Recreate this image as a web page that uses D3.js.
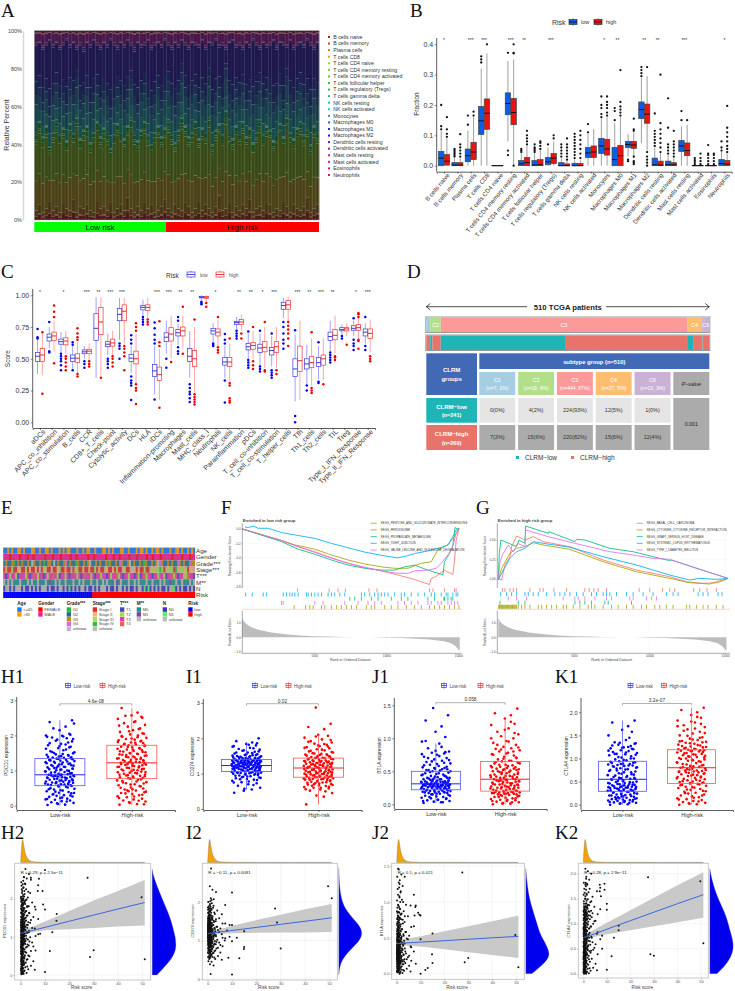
<!DOCTYPE html>
<html><head><meta charset="utf-8">
<script src="https://cdn.jsdelivr.net/npm/d3@7/dist/d3.min.js"></script>
<style>html,body{margin:0;padding:0;background:#fff}svg{display:block;font-family:"Liberation Sans",Arial,sans-serif}</style>
</head><body><svg id="fig" width="735" height="991"></svg>
<script>
// ---------- Panel A / B labels ----------
const cellTypes=["B cells naive","B cells memory","Plasma cells","T cells CD8","T cells CD4 naive","T cells CD4 memory resting","T cells CD4 memory activated","T cells follicular helper","T cells regulatory (Tregs)","T cells gamma delta","NK cells resting","NK cells activated","Monocytes","Macrophages M0","Macrophages M1","Macrophages M2","Dendritic cells resting","Dendritic cells activated","Mast cells resting","Mast cells activated","Eosinophils","Neutrophils"];
const cellWeights=[.03,.006,.05,.16,.001,.2,.015,.012,.022,.006,.006,.05,.07,.04,.07,.18,.012,.01,.065,.002,.004,.015];
const redTop=[5,8,4,6,10,5,7,4,9,6,5,11,4,7,6,8,5,4,10,6,7,5,9,4,6,8,5,12,6,4,7,5,9,6,8,4,5,7,11,6,4,8,6,5,9,7,4,6,10,5,8,6,4,7,13,5,6,9,4,7,5,8,6,11,4,6,7,5,9,8,4,6,5,10,7,4,8,6,5,7,12,4,6,8];
const lowerTop=[46,52,44,50,39,47,53,45,49,42,51,46,55,43,48,50,41,47,52,44,49,46,38,45,51,47,43,50,54,46,42,48,52,45,40,47,50,44,49,53,46,41,48,55,50,44,47,52,43,49,46,54,40,48,51,45,58,47,43,50,46,52,44,49,41,47,53,45,50,48,42,46,51,44,55,47,43,49,52,45,48,40,50,46];
const tealTop=[66,70,62,68,60,65,72,64,67,61,69,66,75,63,66,70,62,67,71,64,68,65,59,64,70,66,63,69,74,65,61,67,72,64,60,66,70,63,68,73,65,60,67,78,70,64,66,71,62,68,65,76,60,67,70,64,80,66,63,69,65,72,63,68,61,66,73,64,69,67,62,65,71,63,76,66,62,68,72,64,67,60,69,65];
const navyTop=[92,93,90,92,94,91,93,90,92,95,91,93,90,92,89,93,91,94,92,90,93,91,95,92,90,93,91,94,92,89,93,91,92,94,90,92,93,91,95,92,90,93,91,94,92,90,93,92,91,94,90,93,92,95,91,92,90,93,94,91,92,90,93,91,95,92,90,93,91,92,94,90,93,92,91,94,90,92,93,91,95,92,90,93];
const riskSplit=["Low risk","High risk"];
const pctTicks=[0,20,40,60,80,100];

// ---------- Panel B: [low whisker,q1,median,q3,high whisker] ----------
const bLow=[[0,0,.025,.047,.115],[0,0,.002,.01,.025],[0,.013,.033,.055,.115],[0,.103,.148,.195,.32],[0,0,0,.001,.001],[.08,.168,.205,.24,.345],[0,0,.006,.017,.04],[0,0,.002,.017,.04],[0,.003,.013,.027,.06],[0,0,0,.01,.025],[0,0,0,.008,.02],[0,.027,.042,.06,.105],[0,.04,.065,.09,.155],[0,0,.02,.06,.14],[.03,.06,.07,.08,.105],[.075,.155,.185,.21,.29],[0,0,.003,.025,.06],[0,0,.003,.015,.035],[0,.047,.065,.083,.13],[0,0,0,.001,.002],[0,0,0,.001,.003],[0,0,.007,.02,.045]];
const bHigh=[[0,.002,.015,.037,.09],[0,0,.002,.01,.025],[0,.02,.045,.077,.16],[0,.12,.173,.22,.37],[0,0,0,.001,.001],[0,.135,.175,.222,.35],[0,0,.01,.027,.065],[0,0,.003,.02,.05],[0,.007,.025,.04,.08],[0,0,0,.006,.015],[0,0,0,.007,.018],[0,.027,.045,.065,.12],[0,.035,.055,.087,.16],[0,0,.033,.067,.16],[.025,.057,.068,.08,.11],[.05,.14,.17,.203,.295],[0,0,.002,.015,.04],[0,0,.003,.01,.025],[0,.033,.05,.075,.135],[0,0,0,.001,.002],[0,0,0,.001,.003],[0,0,.005,.017,.04]];
const bLowOut=[[.12,.13,.2],[.03,.035,.04,.045,.05,.055],[.135,.165],[.34,.35,.36],[],[.035,.05,.372],[.045,.05,.055],[.045,.05,.055,.06,.07],[.07],[.03,.04,.05,.06,.07],[.025,.035,.045,.055,.065,.075,.085,.095,.105],[.11,.137],[.16,.17,.19,.2,.228],[.15,.18,.19],[.015,.02],[.295,.305,.315,.325],[.065,.075,.085,.095,.105,.115,.172],[.04,.05,.06,.07,.125,.222],[.15,.18],[.005,.012,.018,.025],[.005,.015,.025,.035,.04,.068],[.05,.06,.08]];
const bHighOut=[[.095,.105,.12,.16],[.03,.04,.05,.06,.07,.104],[.165,.178],[.4],[],[0,.37,.372,.4],[.07,.08,.09,.1,.115],[.055,.065,.075,.08],[.09,.1],[.02,.03,.04,.05,.06,.07,.09],[.025,.04,.055,.07,.085,.1,.115],[],[.165,.175,.19,.2,.21,.228],[.165,.175,.185,.195,.21,.315],[.005,.01,.015,.03,.115,.12,.155],[0,.01,.02,.03,.045,.325],[.045,.06,.075,.09,.105,.12,.14,.3],[.03,.04,.05,.06,.07,.08,.115],[.15],[.005,.015,.025,.04],[.005,.015,.025,.035,.04],[.045,.055,.065,.08,.095,.11,.125,.197]];
const bStars=["*","","***","***","","***","**","","***","","","","*","**","","**","**","","***","","",  "*"];
const bTicks=[0,.1,.2,.3,.4];

// ---------- Panel C ----------
const cCats=["aDCs","APC_co_inhibition","APC_co_stimulation","B_cells","CCR","CD8+_T_cells","Check-point","Cytolytic_activity","DCs","HLA","iDCs","Inflammation-promoting","Macrophages","Mast_cells","MHC_class_I","Neutrophils","NK_cells","Parainflammation","pDCs","T_cell_co-inhibition","T_cell_co-stimulation","T_helper_cells","Tfh","Th1_cells","Th2_cells","TIL","Treg","Type_I_IFN_Response","Type_II_IFN_Response"];
const cLow=[[.38,.48,.52,.55,.65],[.58,.64,.67,.695,.75],[.55,.615,.635,.655,.71],[.42,.48,.505,.53,.6],[.5,.54,.555,.57,.6],[.35,.645,.74,.855,.985],[.53,.595,.615,.635,.7],[.65,.8,.85,.895,.98],[.39,.48,.505,.535,.6],[.84,.885,.905,.92,.965],[.22,.36,.405,.455,.6],[.54,.635,.67,.705,.8],[.61,.68,.705,.73,.78],[.35,.48,.52,.58,.72],[.96,.98,.985,.99,1],[.63,.695,.72,.74,.78],[.35,.45,.475,.51,.6],[.73,.77,.785,.795,.83],[.5,.57,.595,.62,.7],[.45,.55,.585,.615,.7],[.44,.53,.565,.59,.68],[.82,.89,.92,.945,.98],[.165,.36,.42,.5,.69],[.3,.42,.46,.5,.61],[.34,.44,.47,.51,.6],[.56,.645,.675,.71,.8],[.69,.72,.73,.745,.77],[.68,.725,.74,.76,.8],[.62,.68,.71,.735,.78]];
const cHigh=[[.37,.48,.53,.58,.7],[.56,.645,.68,.71,.8],[.54,.61,.64,.665,.72],[.39,.47,.505,.54,.63],[.49,.54,.56,.575,.62],[.37,.69,.79,.905,.985],[.53,.6,.625,.655,.72],[.62,.8,.875,.925,.98],[.31,.46,.5,.56,.7],[.82,.88,.905,.925,.98],[.175,.33,.375,.435,.58],[.5,.64,.695,.745,.84],[.58,.68,.72,.75,.84],[.24,.44,.5,.565,.75],[.95,.975,.985,.99,1],[.6,.68,.71,.735,.81],[.33,.44,.475,.51,.62],[.72,.77,.79,.81,.85],[.5,.575,.605,.63,.72],[.43,.555,.59,.635,.75],[.43,.55,.595,.635,.75],[.8,.89,.925,.96,.99],[.175,.4,.485,.6,.8],[.29,.43,.47,.52,.66],[.33,.45,.5,.53,.66],[.54,.65,.685,.73,.84],[.68,.72,.735,.745,.78],[.66,.725,.745,.77,.82],[.55,.66,.7,.735,.81]];
const cLowOut=[[.66,.67,.735],[.55,.56,.79],[.41,.45,.48,.5,.52,.54],[.41,.61,.63],[.43,.46,.48],[],[.43,.46,.48,.5],[.5,.58,.6,.62],[.175,.29,.31,.33,.36,.62,.65,.685],[.77,.79,.81,.83],[.18,.62,.65,.69,.74,.785],[.43,.5],[.54,.56,.59,.8,.83],[.16,.19,.22,.24,.27,.3],[.93,.94,.95],[.6,.61,.62],[.155,.33,.62,.65,.695],[.66,.68,.7,.72],[.43,.45,.47,.49,.715],[.4,.42,.44,.72],[.35,.37,.39,.41,.7],[.58,.62,.65,.7,.75,.79],[0,.05,.725],[.25,.29],[.31,.32,.63],[.47,.49,.51,.53,.55],[.66,.68],[.57,.6,.62,.65,.82],[.57,.6,.83]];
const cHighOut=[[.225,.71],[.465,.83,.87,.92],[.41,.44,.47,.5,.52],[.36,.38,.65,.67,.7,.74],[.44,.46,.48],[.35],[.44,.47,.5,.52],[.41,.52,.55,.58,.6],[.145,.25,.27,.3,.72,.75,.78],[.77,.79,.81],[.115,.6,.63,.795],[.475],[.54,.91],[.14,.16,.18,.2,.22,.81],[.91,.94],[.55,.57,.59,.83],[.155,.17,.19,.29,.31,.66],[.66,.7],[.42,.45,.48,.75],[.4,.41,.79],[.38,.41],[.6,.66,.7,.73,.76,.79],[],[.23,.25,.27,.71],[.3],[.49,.51,.52],[.61],[.58,.64,.65,.83,.85,.86],[.48,.5,.52]];
const cStars=["*","","*","","***","**","***","***","","","***","***","**","**","","*","","**","**","*","***","","***","**","***","**","","*","***"];
const cTicks=[0,.25,.5,.75,1];

// ---------- Panel D ----------
const dGroups=["C1","C2","C3","C4","C6"];
const dCounts=[7,19,444,27,13];
const dPercent=["1%","4%","87%","5%","3%"];
const dLowCounts=[0,4,224,12,1];
const dHighCounts=[7,15,220,15,12];
const dLowPct=["0%","2%","93%","5%","0%"];
const dHighPct=["3%","6%","82%","6%","4%"];
const dSubsetOrder=[["high","low"],["low","high"],["low","high"],["low","high"],["low","high"]];

// ---------- Panel E (one letter per patient block) ----------
const eTracks=["Age","Gender","Grade***","Stage***","T***","M**","N","Risk"];
const eCells=[
"aababaabbabaaabbaabaabbabaaabababbaaabaababbaabaaabbababaaabbaabaaababbabaababbabaaabaabbabaababa",
"ppprpppprppprpprppppprppprppprpppprpprppppprpprppppprppprpprpppprppprpppprpprppprppppprpppprppprpp",
"bcbbcabcbcbbcbecbbcbabccbebcbbcdbcbbacbbcbcebbcbcbbcacbbcbdcbbcebcbbcbacbbcbcedcbbcbcbbdcbcbbdcc",
"abaacaabbaacabaabaeacbaabaabcaabaaeabcaabaabaacabaaebaabacaabcaabebabaacaabcbccdcabcccadbccbcabbe",
"cacbccbacccbcacdcbccacbccdcbaccbcacccbcacdccbcaccbccacbccdbcaccbccacbacdbccaccbccbaccdbcaccbbdcca",
"cacacaaacaaacacaacaaacabaacacaacaaacaacacaaacaacaacacaaacbacaaacaacacaaacaacaaacacaabaacaacaaacac",
"accacacccacaacacacacccacaacaccacabacacaccacaacacacccacaacaccacacaacaccababacacacaacacbbacacaacaca",
"lllllllllllllllllllllllllllllllllllllllllllllhhhhhhhhhhhhhhhhhhhhhhhhhhhhhhhhhhhhhhhhhhhhhhhhhhhh"];
const eLegendTitles=["Age","Gender","Grade***","Stage***","T***","M**","N","Risk"];
const eLegendLabels=[["<=65",">65"],["FEMALE","MALE"],["G1","G2","G3","G4","unknow"],["Stage I","Stage II","Stage III","Stage IV","unknow"],["T1","T2","T3","T4"],["M0","M1","unknow"],["N0","N1","unknow"],["low","high"]];
const ePalette=[["#0a7cff","#ff9a00"],["#ff0000","#ff1493"],["#22bb33","#1f6f8f","#c8880f","#dd66dd","#bbbbbb"],["#dd2a2a","#ffb070","#a8dd55","#33bb44","#bbbbbb"],["#4444cc","#a8d855","#ee33bb","#dd6655"],["#1a9090","#7744aa","#bbbbbb"],["#3333cc","#55ee66","#bbbbbb"],["#0000ff","#ff0000"]];
const eCodes=["ab","rp","abcde","abcde","abcd","abc","abc","lh"];

// ---------- Panels F, G ----------
const gseaColors=["#F8766D","#A3A500","#00BF7D","#00B0F6","#E76BF3"];
const fNames=["KEGG_PENTOSE_AND_GLUCURONATE_INTERCONVERSIONS","KEGG_PEROXISOME","KEGG_PROPANOATE_METABOLISM","KEGG_TIGHT_JUNCTION","KEGG_VALINE_LEUCINE_AND_ISOLEUCINE_DEGRADATION"];
const fRed=[[0,0],[2725,-.16],[3880,-.245],[5035,-.315],[6190,-.4],[7345,-.475],[8500,-.535],[9650,-.58],[11040,-.65],[11960,-.7],[13000,-.77],[13120,-.685],[13350,-.67],[14040,-.57],[14160,-.585],[14620,-.63],[14740,-.43],[14850,-.16],[15050,.01]];
const fOlive=[[0,0],[2725,-.16],[3650,-.22],[5035,-.28],[6190,-.36],[7345,-.43],[8500,-.485],[9650,-.525],[10580,-.545],[11500,-.545],[12430,-.475],[13120,-.455],[13580,-.29],[14280,-.22],[14740,-.105],[15050,.01]];
const fGreen=[[0,0],[2725,-.175],[3880,-.28],[5035,-.35],[6190,-.43],[7345,-.5],[8500,-.545],[9650,-.57],[10580,-.57],[11270,-.525],[11960,-.5],[12890,-.57],[13930,-.635],[14040,-.455],[14390,-.34],[14620,-.23],[14780,.02],[15050,-.015]];
const fBlue=[[185,.03],[416,.02],[762,.04],[1109,.01],[1801,.01],[2725,-.05],[3880,-.09],[5035,-.13],[6190,-.2],[7345,-.26],[8500,-.32],[9650,-.365],[10800,-.4],[11390,-.375],[11960,-.34],[12890,-.305],[13810,-.255],[14280,-.22],[14620,-.105],[14850,-.015],[15050,.01]];
const fPink=[[0,0],[2725,-.16],[3880,-.245],[5035,-.325],[6190,-.405],[7345,-.475],[8500,-.53],[9650,-.58],[10800,-.615],[11500,-.615],[11960,-.58],[12890,-.57],[13470,-.545],[13810,-.475],[14280,-.36],[14620,-.245],[14850,-.06],[15050,.01]];
const fRugRed=[3835,6030,6650,7160,8800,9355,13000,13240,14040,14740,14850];
const fRugBlue=[230,690,1455,1685,2840,3070,3300,3465,3650,3880,4460,4575,4805,5035,5265,5500,5960,6190,6420,6770,7115,8270,8500,8850,9195,9425,9655,9890,10120,10580,11040,11270,11735,12200,12660,13120,13350,13815,14160,14280,14620,14850,14965];
const fRugGreen=[7460,7810,8270,8960,9425,10350,11040,11500,12890,13350,14040,14280,14620,14000,14500];
const fRugPink=[2725,2840,5035,5610,7115,8040,8730,9195,9655,10810,11270,11735,12200,12890,13120,13580,13815,14280,14510,14740,14965];
const fRugOlive=[3605,4390,4690,4920,5500,5730,6190,6540,6880,7230,7580,7925,8615,8960,9195,9890,10350,10810,11390,11965,12430,13000,13350,13700,14040,14390,14740,15040];
const gNames=["KEGG_BASAL_CELL_CARCINOMA","KEGG_CYTOKINE_CYTOKINE_RECEPTOR_INTERACTION","KEGG_GRAFT_VERSUS_HOST_DISEASE","KEGG_SYSTEMIC_LUPUS_ERYTHEMATOSUS","KEGG_TYPE_I_DIABETES_MELLITUS"];
const gRed=[[0,0],[220,-.017],[440,.177],[771,.284],[881,.414],[1212,.552],[1762,.5],[2313,.543],[2974,.478],[4736,.414],[6940,.241],[9142,.112],[11345,.026],[12447,-.039],[13549,-.06],[14430,-.052],[14870,-.026],[15200,.004]];
const gOlive=[[0,-.017],[220,.134],[771,.328],[1212,.392],[1762,.414],[2313,.465],[2974,.435],[4736,.379],[6940,.22],[9142,.09],[11345,.004],[12667,-.052],[13989,-.069],[14650,-.026],[15200,.004]];
const gGreen=[[0,0],[66,.328],[176,.5],[1212,.414],[1366,.5],[1762,.457],[1806,.681],[3305,.586],[3349,.608],[5067,.478],[5177,.509],[5728,.5],[7380,.392],[8922,.349],[10244,.284],[11345,.233],[11455,.241],[15200,.004]];
const gBlue=[[0,-.017],[330,.112],[771,.263],[1212,.349],[1762,.392],[2313,.478],[2974,.457],[4736,.406],[6940,.284],[9142,.177],[11345,.047],[12667,-.017],[13328,.004],[14430,-.009],[15200,.004]];
const gPink=[[0,0],[110,.22],[330,.328],[660,.435],[991,.349],[1278,.457],[1762,.414],[1806,.629],[3305,.543],[5067,.457],[7380,.349],[8922,.306],[10244,.263],[11345,.25],[13108,.134],[15200,.004]];
const gRugRed=[264,440,771,991,1212,2093,2754,2974,3679,4516,5728,6014,6323,6609,7160,9319,10024,10861,11345,11676,12932,13328,13813,14430];
const gRugBlue=[154,551,881,1212,1762,1983,2313,2644,3194,3745,4075,4406,4736,5177,5618,6169,6499,6940,7160,7380,7821,8482,8922,9583,10244,11125,11566,11896,13218,13549,13879,14540,14804];
const gRugPink=[660,1212,1872,4296,5067,5287,5728,6389,7160,7490,8702,8922,9803,10134,10464];
const gRugGreen=[110,1322,1762,5067,5397,5728,6169,7050,7270,8812];
const gRugOlive=[30,80,110,170,220,280,330,390,440,500,551,610,660,720,771,830,881,940,991,1050,1101,1160,1212,1322,1542,1762,2093,2644,2864,3194,3525,3855,4296,4516,4957,5397,5948,6169,6389,6940,7490,7931,8482,8922,9473,9803,10354,10685,11125,11566,12447,12667,13108,13549,13879,14430,14870];
const rankedMetric=[[0,1.35],[100,1.1],[300,.9],[600,.7],[1000,.55],[2000,.32],[3000,.2],[4000,.12],[5000,.07],[6000,.04],[7000,.02],[8000,0],[9000,-.01],[10000,-.03],[11000,-.06],[12000,-.1],[13000,-.16],[14000,-.28],[14500,-.42],[14800,-.6],[15000,-.85],[15100,-.95]];
const rankTicks=[5000,10000,15000];

// ---------- Panels H1-K1 ----------
const riskGroups=["Low-risk","High-risk"];
const jitterOffsets=[-.82,.35,-.14,.91,-.57,.12,.68,-.33,-.95,.49,.03,-.71,.84,-.22,.27,-.48,.76,-.06,.58,-.88,.19,-.39,.97,-.63,.41,-.11,.72,-.79,.08,.55,-.27,.88,-.52,.23,-.93,.63,-.02,.38,-.68,.81,-.18,.46,-.85,.15,.7,-.43,.94,-.3,.05,-.74,.52,-.09,.79,-.59,.31,-.98,.61,-.24,.1,.86,-.37];
const pdcd1Low=[.02,.03,.05,.08,.1,.13,.15,.17,.18,.2,.22,.25,.26,.28,.3,.32,.35,.37,.39,.41,.43,.46,.48,.5,.54,.57,.58,.6,.61,.62,.64,.65,.66,.68,.69,.7,.71,.73,.74,.75,.77,.78,.8,.81,.82,.83,.84,.85,.87,.88,.9,.91,.93,.94,.96,.98,.99,1.01,1.03,1.05,1.07,1.09,1.1,1.12,1.14,1.16,1.18,1.2,1.22,1.24,1.26,1.28,1.3,1.32,1.34,1.36,1.37,1.38,1.4,1.42,1.45,1.47,1.5,1.52,1.55,1.6,1.64,1.68,1.72,1.76,1.8,1.85,1.9,1.94,1.97,2,2.05,2.15,2.25,2.38,2.43,
.07,.12,.19,.23,.29,.33,.36,.4,.44,.47,.52,.55,.56,.59,.6,.63,.67,.67,.72,.72,.76,.79,.8,.83,.86,.86,.89,.92,.95,.97,1,1.02,1.04,1.06,1.08,1.11,1.13,1.15,1.17,1.19,1.21,1.23,1.25,1.27,1.29,1.31,1.33,1.35,1.39,1.41,1.44,1.46,1.49,1.53,1.58,1.62,1.66,1.7,1.74,1.78,1.83,1.88,1.92,1.96,1.99,2.02,2.2,2.34];
const pdcd1High=[.03,.05,.08,.12,.15,.18,.2,.24,.27,.3,.33,.36,.38,.41,.43,.46,.49,.52,.55,.58,.61,.64,.67,.7,.74,.77,.79,.81,.83,.85,.87,.89,.91,.93,.95,.97,.99,1.01,1.03,1.05,1.07,1.09,1.11,1.13,1.15,1.16,1.17,1.18,1.2,1.22,1.24,1.26,1.28,1.3,1.32,1.34,1.36,1.38,1.4,1.42,1.44,1.46,1.48,1.5,1.52,1.54,1.56,1.58,1.6,1.62,1.64,1.66,1.68,1.7,1.72,1.74,1.76,1.78,1.8,1.83,1.86,1.88,1.9,1.93,1.96,2,2.03,2.06,2.1,2.15,2.2,2.25,2.3,2.35,2.4,2.47,2.53,2.57,2.65,2.78,
.04,.1,.14,.22,.26,.31,.35,.4,.44,.47,.51,.56,.6,.63,.66,.69,.72,.75,.78,.8,.84,.86,.88,.92,.94,.96,1,1.02,1.04,1.08,1.1,1.12,1.14,1.19,1.21,1.23,1.25,1.27,1.29,1.31,1.33,1.35,1.37,1.39,1.43,1.45,1.47,1.49,1.53,1.55,1.59,1.63,1.67,1.71,1.75,1.79,1.81,1.85,1.91,1.95,1.98,2.05,2.12,2.18,2.28,2.38,2.5,2.56];
const cd274Low=[.46,.55,.57,.6,.66,.7,.73,.76,.8,.83,.85,.87,.89,.91,.93,.95,.96,.98,.99,1,1.01,1.02,1.03,1.04,1.05,1.06,1.07,1.08,1.09,1.1,1.11,1.12,1.13,1.13,1.14,1.15,1.15,1.16,1.17,1.17,1.18,1.19,1.19,1.2,1.2,1.21,1.21,1.22,1.22,1.23,1.24,1.25,1.25,1.26,1.27,1.27,1.28,1.29,1.29,1.3,1.31,1.31,1.32,1.33,1.33,1.34,1.35,1.35,1.36,1.37,1.37,1.38,1.39,1.39,1.4,1.41,1.42,1.43,1.44,1.45,1.46,1.47,1.48,1.49,1.5,1.52,1.53,1.55,1.57,1.6,1.62,1.65,1.68,1.7,1.73,1.76,1.8,1.84,1.88,1.92,2,
.52,.68,.75,.78,.82,.84,.88,.9,.92,.94,.97,.98,1,1.02,1.03,1.05,1.06,1.08,1.09,1.1,1.12,1.13,1.14,1.16,1.17,1.18,1.19,1.2,1.21,1.22,1.23,1.24,1.24,1.25,1.26,1.27,1.28,1.29,1.3,1.31,1.32,1.33,1.34,1.35,1.36,1.37,1.38,1.39,1.41,1.42,1.43,1.44,1.46,1.47,1.49,1.51,1.53,1.55,1.58,1.6,1.63,1.66,1.72,1.78,1.82,1.86];
const cd274High=[.13,.35,.38,.45,.52,.55,.58,.6,.62,.65,.67,.69,.71,.73,.75,.77,.79,.8,.82,.83,.84,.85,.87,.88,.89,.9,.91,.92,.94,.95,.96,.97,.98,.99,1,1.01,1.02,1.03,1.04,1.05,1.06,1.07,1.08,1.09,1.1,1.11,1.12,1.13,1.15,1.16,1.17,1.18,1.19,1.2,1.21,1.22,1.23,1.24,1.25,1.26,1.27,1.28,1.29,1.3,1.31,1.32,1.33,1.34,1.35,1.36,1.37,1.39,1.4,1.42,1.44,1.45,1.47,1.48,1.5,1.52,1.54,1.56,1.58,1.6,1.63,1.66,1.69,1.72,1.75,1.78,1.82,1.85,1.88,1.92,1.97,2.02,2.07,2.1,2.26,2.32,2.41,2.87,
.5,.56,.6,.63,.66,.68,.7,.72,.74,.76,.78,.81,.83,.85,.86,.88,.9,.92,.93,.95,.97,.99,1.01,1.03,1.05,1.07,1.09,1.11,1.13,1.14,1.16,1.18,1.2,1.22,1.24,1.26,1.28,1.3,1.32,1.34,1.36,1.38,1.41,1.43,1.44,1.46,1.49,1.51,1.53,1.55,1.57,1.61,1.65,1.68,1.73,1.77,1.8,1.84,1.9,1.95,2.05];
const btlaLow=[.02,.03,.04,.05,.06,.07,.08,.09,.1,.11,.12,.13,.14,.15,.16,.17,.17,.18,.18,.19,.19,.2,.2,.21,.21,.22,.23,.23,.24,.24,.25,.25,.26,.26,.26,.27,.27,.27,.28,.28,.28,.29,.29,.29,.3,.3,.3,.31,.31,.31,.32,.32,.33,.33,.34,.34,.35,.35,.36,.36,.37,.38,.38,.39,.4,.4,.41,.42,.43,.44,.45,.46,.47,.48,.5,.51,.52,.53,.54,.55,.56,.58,.6,.62,.64,.66,.68,.7,.72,.75,.77,.78,.8,.85,.92,.95,1.02,1.1,1.18,1.27,1.35,1.46,
.03,.05,.07,.09,.11,.13,.15,.16,.18,.19,.2,.21,.22,.23,.24,.25,.26,.27,.28,.28,.29,.29,.3,.3,.31,.31,.32,.32,.33,.34,.34,.35,.36,.37,.38,.39,.4,.42,.43,.45,.47,.49,.5,.52,.53,.55,.57,.59,.61,.63,.65,.67,.7,.73,.76,.79,.81,.87,.96];
const btlaHigh=[0,.01,.02,.03,.04,.05,.06,.07,.08,.09,.1,.11,.12,.13,.14,.15,.15,.16,.16,.17,.17,.18,.18,.19,.19,.2,.21,.22,.22,.23,.24,.25,.25,.26,.27,.28,.28,.29,.3,.3,.31,.32,.33,.33,.34,.35,.35,.36,.37,.38,.39,.4,.41,.42,.43,.44,.45,.46,.47,.48,.49,.5,.51,.52,.53,.54,.55,.56,.57,.58,.59,.6,.62,.63,.65,.66,.68,.7,.72,.74,.76,.78,.8,.82,.84,.85,.87,.9,.93,.96,1,1.03,1.06,1.1,1.15,1.2,1.22,1.3,1.35,1.38,1.45,
.01,.03,.05,.07,.09,.11,.13,.14,.16,.17,.18,.19,.2,.21,.23,.24,.25,.26,.27,.29,.3,.31,.32,.34,.35,.36,.37,.38,.4,.41,.42,.43,.45,.46,.48,.49,.5,.52,.53,.54,.56,.58,.6,.62,.64,.66,.69,.71,.75,.77,.8,.83,.86,.9,.95,1,1.08,1.13,1.25];
const ctla4Low=[0,.01,.03,.04,.05,.06,.07,.08,.09,.1,.11,.12,.13,.14,.15,.16,.17,.18,.19,.2,.21,.22,.24,.26,.28,.29,.3,.31,.32,.33,.34,.35,.36,.37,.38,.39,.4,.41,.42,.43,.44,.45,.46,.47,.48,.49,.5,.52,.53,.55,.56,.57,.58,.6,.62,.64,.66,.68,.7,.72,.74,.75,.77,.79,.8,.82,.84,.85,.86,.87,.88,.89,.9,.92,.94,.96,.98,1,1.02,1.05,1.07,1.09,1.1,1.12,1.14,1.16,1.18,1.2,1.22,1.24,1.27,1.3,1.33,1.35,1.4,1.5,1.58,1.62,1.7,1.78,1.82,
.02,.04,.06,.08,.1,.12,.14,.16,.18,.2,.22,.23,.25,.27,.28,.3,.31,.32,.33,.34,.35,.36,.37,.38,.39,.4,.42,.43,.45,.47,.49,.51,.54,.56,.58,.6,.63,.65,.67,.7,.73,.76,.78,.81,.83,.85,.88,.91,.93,.97,1,1.03,1.08,1.1,1.13,1.17,1.21,1.23,1.25,1.28,1.32,1.34,1.45];
const ctla4High=[0,.01,.02,.04,.06,.08,.1,.12,.14,.16,.18,.2,.22,.24,.26,.28,.3,.32,.34,.36,.37,.39,.41,.43,.45,.46,.47,.49,.5,.52,.53,.55,.56,.58,.6,.61,.63,.64,.66,.67,.69,.7,.71,.72,.73,.74,.75,.77,.78,.8,.82,.84,.86,.88,.9,.92,.93,.95,.96,.98,1,1.01,1.03,1.04,1.06,1.07,1.09,1.1,1.12,1.13,1.15,1.16,1.17,1.18,1.19,1.2,1.22,1.24,1.26,1.28,1.3,1.32,1.34,1.36,1.38,1.4,1.43,1.46,1.5,1.54,1.58,1.63,1.68,1.72,1.78,1.82,1.88,1.94,2,2.05,2.1,
.03,.07,.11,.15,.2,.25,.29,.33,.38,.42,.44,.47,.48,.51,.54,.57,.59,.62,.65,.68,.7,.72,.74,.76,.79,.81,.83,.85,.87,.91,.94,.97,.99,1.02,1.05,1.08,1.11,1.14,1.16,1.18,1.2,1.21,1.23,1.25,1.27,1.29,1.33,1.35,1.37,1.41,1.45,1.49,1.55,1.6,1.65,1.7,1.75,1.8,1.9];
const pdcd1Box=[[0,.57,.88,1.34,2.43],[.02,.77,1.22,1.72,2.78]];
const cd274Box=[[.55,1.06,1.23,1.4,1.9],[.12,.9,1.16,1.44,2.1]];
const btlaBox=[[.02,.22,.31,.5,.92],[0,.2,.38,.65,1.3]];
const ctla4Box=[[0,.29,.55,.94,1.82],[0,.46,.8,1.19,2.1]];

// ---------- Panels H2-K2 ----------
const riskLow=[.3,.7,.15,.55,.42,.85,.22,.6,.1,.75,.35,.5,.9,.18,.65,.28,.8,.45,.12,.58,.38,.72,.25,.88,.48,.08,.62,.32,.78,.2,.52,.4,.68,.16,.83,.44,.27,.74,.56,.14,.66,.36,.86,.24,.47,.7,.33];
const riskHigh=[1.2,2.4,.95,1.6,3.1,1.05,1.9,4.2,1.35,.9,2.1,5.2,1.15,2.8,1.45,1,3.6,1.75,.85,2.3,1.25,6.1,1.55,1.1,2.6,3.3,.92,1.85,1.3,4.7,1.65,2,1.08,2.95,1.4,.98,3.9,1.5,2.2,1.18,7.2,1.7,1.02,2.5,1.28,3.4,1.95,.88,1.38,5.8,2.7,1.12,1.6];
const riskDensity=[[0,0],[.3,.6],[.7,1],[1,.9],[1.5,.55],[2,.3],[3,.12],[4,.06],[5,.03],[7,.015],[10,.008],[15,.005],[30,.003],[51,.002]];
const riskTicks=[0,10,20,30,40,50];
const h2Extra=[[10,2.75],[27.5,2.55],[49.7,2.04],[14.8,1.6],[14.7,1.42],[13,1.12],[12,.63],[30,.65],[28.5,.47],[51,.41],[10,.08],[9.2,1.85],[10,1.72],[8,1.08],[7.5,2.52],[4.2,2.55],[7,2.2],[9,2.2]];
const i2Extra=[[49.5,2.41],[51,2.1],[27.7,1.83],[28.5,1.47],[30,.79],[15,1.24],[15,.83],[14.9,.78],[13,.54],[12,1.07],[10,2.25],[10,.12],[10,.98],[8,1.26],[8.5,.55],[9,1.1],[9,1.4],[10,1.4],[7,1]];
const j2Extra=[[27.5,1.41],[49.7,.54],[51,.09],[30,.22],[28.5,.16],[15,.56],[15,.15],[14.8,.27],[13,.08],[12,.05],[10,.81],[10,.48],[10,0],[9,.85],[9.5,.82],[7.5,.81],[7.8,.93],[8,.95],[8,.14]];
const k2Extra=[[27.5,1.93],[49.7,1.85],[51,.61],[30,.36],[28.5,.39],[15,.96],[15,.87],[13,.72],[12,.35],[10,1.28],[10,1.4],[10,.08],[9,1.8],[9,1.68],[8,.76],[8,.5],[7,1.65],[7,1.78],[7.5,1.55]];
const h2Density=[[0,.2],[.2,.5],[.4,.78],[.6,.95],[.75,1],[1,.97],[1.2,.88],[1.45,.78],[1.7,.62],[2,.42],[2.3,.22],[2.6,.05],[2.78,0]];
const i2Density=[[.1,0],[.4,.06],[.6,.25],[.8,.55],[1,.88],[1.2,1],[1.4,.85],[1.6,.55],[1.8,.3],[2,.14],[2.3,.05],[2.6,.015],[2.9,0]];
const j2Density=[[0,.25],[.1,.62],[.2,.92],[.28,1],[.4,.86],[.5,.68],[.6,.55],[.75,.42],[.9,.28],[1.05,.15],[1.2,.08],[1.35,.03],[1.47,0]];
const k2Density=[[0,.3],[.15,.62],[.3,.85],[.5,1],[.7,.95],[.9,.82],[1.1,.72],[1.3,.55],[1.5,.35],[1.7,.2],[1.9,.08],[2.1,0]];
// regression fit: [risk, lower CI, fit, upper CI]
const h2Fit=[[0,1.04,1.09,1.16],[5,1.12,1.17,1.27],[10,1.17,1.25,1.4],[20,1.2,1.41,1.68],[30,1.23,1.57,1.95],[40,1.27,1.73,2.2],[51,1.3,1.9,2.49]];
const i2Fit=[[0,1.14,1.18,1.22],[5,1.17,1.22,1.29],[10,1.19,1.26,1.38],[20,1.2,1.34,1.53],[30,1.21,1.42,1.67],[40,1.21,1.5,1.81],[51,1.22,1.59,1.95]];
const j2Fit=[[0,.39,.42,.46],[5,.39,.43,.49],[10,.38,.44,.52],[20,.34,.46,.59],[30,.3,.48,.66],[40,.26,.5,.73],[51,.22,.52,.81]];
const k2Fit=[[0,.68,.72,.77],[5,.74,.8,.89],[10,.79,.89,1.02],[20,.87,1.06,1.27],[30,.95,1.23,1.52],[40,1.03,1.4,1.77],[51,1.12,1.58,2.03]];

// ==================== drawing ====================
const svg=d3.select("#fig");
const FONT_SERIF='"Liberation Serif","Times New Roman",serif';
const FONT_SANS='"Liberation Sans",Arial,sans-serif';
const line=(g,x1,y1,x2,y2,c,w)=>g.append("line").attr("x1",x1).attr("y1",y1).attr("x2",x2).attr("y2",y2).attr("stroke",c).attr("stroke-width",w);
const text=(g,x,y,s,size,o={})=>{const t=g.append("text").attr("x",x).attr("y",y).attr("font-size",size).attr("fill",o.fill||"#222").text(s);
  if(o.anchor)t.attr("text-anchor",o.anchor); if(o.weight)t.attr("font-weight",o.weight); if(o.style)t.attr("font-style",o.style); if(o.family)t.attr("font-family",o.family);
  if(o.rot!=null)t.attr("transform",`rotate(${o.rot},${x},${y})`); return t;};

// panel letters
[["A",1,17],["B",410,17],["C",1,278],["D",407,278],["E",1,514],["F",221,514],["G",476,514],["H1",1,683],["I1",186,683],["J1",372,683],["K1",555,683],["H2",1,839],["I2",186,839],["J2",372,839],["K2",555,839]]
 .forEach(d=>text(svg,d[1],d[2],d[0],19,{family:FONT_SERIF,fill:"#111"}));

// ---- A ----
(function(){
 const g=svg.append("g");
 const hueOf=i=>i*360/cellTypes.length;
 const groups=[[0,1,2],[3,4,5,6,7,8,9,10],[11,12,13],[14,15],[16,17,18,19,20,21]];
 const table=redTop.map((r,c)=>{
   const shares=[r,lowerTop[c]-r,tealTop[c]-lowerTop[c],navyTop[c]-tealTop[c],100-navyTop[c]];
   const row={col:c};
   groups.forEach((m,k)=>{const tot=d3.sum(m,i=>cellWeights[i]); m.forEach(i=>row[cellTypes[i]]=shares[k]*cellWeights[i]/tot);});
   return row;});
 const series=d3.stack().keys(cellTypes)(table);
 const x=d3.scaleBand().domain(redTop.map((_,i)=>i)).range([34.3,319]).padding(0);
 const y=d3.scaleLinear().domain([0,100]).range([220,30.7]);
 series.forEach((s,i)=>{
   g.append("g").attr("fill",d3.hsl(hueOf(i),.5,.21)).selectAll("rect").data(s).join("rect")
    .attr("x",d=>x(d.data.col)).attr("width",x.bandwidth()+.3).attr("y",d=>y(d[1])).attr("height",d=>Math.max(0,y(d[0])-y(d[1])));
 });
 // fine sample separators
 g.append("g").selectAll("line").data(redTop.map((_,i)=>i)).join("line")
  .attr("x1",d=>x(d)+x.bandwidth()/2).attr("x2",d=>x(d)+x.bandwidth()/2).attr("y1",30.7).attr("y2",220)
  .attr("stroke","#000").attr("stroke-opacity",.22).attr("stroke-width",.6);
 g.append("rect").attr("x",34.3).attr("y",30.7).attr("width",284.7).attr("height",189.3).attr("fill","none").attr("stroke","#999").attr("stroke-width",.5);
 const ax=g.append("g").attr("transform","translate(23,0)").call(d3.axisLeft(y).tickValues(pctTicks).tickFormat(d=>d+"%").tickSize(0).tickPadding(1));
 ax.select(".domain").attr("stroke","#d8d8d8").attr("stroke-width",1.5);
 ax.selectAll("text").attr("font-size",5.5).attr("fill","#444").attr("font-family","inherit");
 text(g,9,125,"Relative Percent",7,{anchor:"middle",rot:-90,fill:"#333"});
 const xr=d3.scaleLinear().domain([0,1]).range([34.3,319]);
 const split=(166-34.3)/(319-34.3);
 [[0,split,"#00ff00"],[split,1,"#ff0000"]].forEach((d,i)=>{
   g.append("rect").attr("x",xr(d[0])).attr("y",222).attr("width",xr(d[1])-xr(d[0])).attr("height",10).attr("fill",d[2]);
   text(g,(xr(d[0])+xr(d[1]))/2,230,riskSplit[i],8,{anchor:"middle",fill:"#111"});
 });
 cellTypes.forEach((n,i)=>{
   const yy=37+i*6.57;
   g.append("rect").attr("x",328).attr("y",yy-1).attr("width",2).attr("height",2).attr("fill",d3.hsl(hueOf(i),.8,.45));
   text(g,333.3,yy+1.8,n,5.2,{fill:"#333"});
 });
})();

// shared box drawing
function drawBoxes(g,keys,x,y,off,w,stats,outs,o){
 const c=g.append("g");
 const rows=stats.map((s,i)=>({s,o:outs?outs[i]:[],k:keys[i]}));
 const cx=d=>x(d.k)+off;
 c.selectAll("line.w").data(rows).join("line").attr("class","w").attr("x1",cx).attr("x2",cx).attr("y1",d=>y(d.s[0])).attr("y2",d=>y(d.s[4])).attr("stroke",o.whisker).attr("stroke-width",o.ww||.7);
 c.selectAll("rect").data(rows).join("rect").attr("x",d=>cx(d)-w/2).attr("width",w).attr("y",d=>y(d.s[3])).attr("height",d=>Math.max(.4,y(d.s[1])-y(d.s[3]))).attr("fill",o.fill).attr("stroke",o.stroke).attr("stroke-width",o.sw||.7);
 c.selectAll("line.m").data(rows).join("line").attr("class","m").attr("x1",d=>cx(d)-w/2).attr("x2",d=>cx(d)+w/2).attr("y1",d=>y(d.s[2])).attr("y2",d=>y(d.s[2])).attr("stroke",o.median).attr("stroke-width",o.mw||1);
 const pts=rows.flatMap(d=>d.o.map(v=>({v,k:d.k})));
 c.selectAll("circle").data(pts).join("circle").attr("cx",cx).attr("cy",d=>y(d.v)).attr("r",o.r||1.2).attr("fill",o.dot);
}
function boxKey(g,x,y,w,h,fill,stroke,med){
 line(g,x+w/2,y-1.2,x+w/2,y+h+1.2,stroke,.6);
 g.append("rect").attr("x",x).attr("y",y).attr("width",w).attr("height",h).attr("fill",fill).attr("stroke",stroke).attr("stroke-width",.7);
 line(g,x,y+h/2,x+w,y+h/2,med,.8);
}
function catAxis(g,x,yPos,size,angle,color){
 const a=g.append("g").attr("transform",`translate(0,${yPos})`).call(d3.axisBottom(x).tickSize(2));
 a.select(".domain").attr("stroke","#333").attr("stroke-width",.8);
 a.selectAll(".tick line").attr("stroke","#333").attr("stroke-width",.6);
 a.selectAll("text").attr("font-size",size).attr("font-family","inherit").attr("fill",color).attr("text-anchor","end").attr("dx","0.1em").attr("dy","0.25em").attr("transform",`rotate(${angle})`);
 return a;
}
function valAxis(g,y,xPos,top,bottom,ticks,fmt,size){
 const a=g.append("g").attr("transform",`translate(${xPos},0)`).call(d3.axisLeft(y).tickValues(ticks).tickFormat(fmt).tickSize(2).tickPadding(1.5));
 a.select(".domain").remove();
 a.selectAll(".tick line").attr("stroke","#333").attr("stroke-width",.6);
 a.selectAll("text").attr("font-size",size).attr("font-family","inherit").attr("fill","#333");
 line(g,xPos,top,xPos,bottom,"#333",.8);
}

// ---- B ----
(function(){
 const g=svg.append("g");
 const x=d3.scalePoint().domain(cellTypes).range([436.7,731.7]).padding(.55);
 const y=d3.scaleLinear().domain([0,.4]).range([165.7,44.3]);
 const o={whisker:"#777",median:"#111",mw:1,dot:"#111",r:1.15,stroke:"#444"};
 drawBoxes(g,cellTypes,x,y,-2.85,5.4,bLow,bLowOut,{...o,fill:"#0a5fe8"});
 drawBoxes(g,cellTypes,x,y,2.85,5.4,bHigh,bHighOut,{...o,fill:"#ee1111"});
 valAxis(g,y,436.7,38,171.7,bTicks,d3.format(".1f"),7);
 catAxis(g,x,171.7,6.1,-50,"#333");
 text(g,419,104,"Fraction",6.5,{anchor:"middle",rot:-90,fill:"#333"});
 bStars.forEach((s,i)=>s&&text(g,x(cellTypes[i]),42,s,5,{anchor:"middle",fill:"#333"}));
 text(g,552,24.5,"Risk",7,{fill:"#333"});
 boxKey(g,569,19.5,8,5,"#0a5fe8","#333","#111");
 text(g,581,24.3,"low",5.5,{fill:"#333"});
 boxKey(g,594,19.5,8,5,"#ee1111","#333","#111");
 text(g,606,24.3,"high",5.5,{fill:"#333"});
})();

// ---- C ----
(function(){
 const g=svg.append("g");
 const x=d3.scalePoint().domain(cCats).range([32.7,375]).padding(.62);
 const y=d3.scaleLinear().domain([0,1]).range([422.3,295.3]);
 drawBoxes(g,cCats,x,y,-2.4,4.4,cLow,cLowOut,{whisker:"#8a8aff",fill:"#fff",stroke:"#3838e0",median:"#2222cc",dot:"#0000ee",r:1.25,ww:.8,mw:.9});
 drawBoxes(g,cCats,x,y,2.4,4.4,cHigh,cHighOut,{whisker:"#ff9090",fill:"#fff",stroke:"#ee3333",median:"#dd1111",dot:"#ee0000",r:1.25,ww:.8,mw:.9});
 valAxis(g,y,32.7,289,428,cTicks,d3.format(".2f"),7);
 catAxis(g,x,428,7,-45,"#333");
 text(g,10,358.7,"Score",6.5,{anchor:"middle",rot:-90,fill:"#333"});
 cStars.forEach((s,i)=>s&&text(g,x(cCats[i]),294,s,5,{anchor:"middle",fill:"#333"}));
 text(g,166,277.5,"Risk",6.5,{fill:"#333"});
 boxKey(g,187,272,8,5,"#fff","#3838e0","#2222cc");
 text(g,200,277.3,"low",5,{fill:"#555"});
 boxKey(g,216,272,8,5,"#fff","#ee3333","#dd1111");
 text(g,229,277.3,"high",5,{fill:"#555"});
})();

// ---- D ----
(function(){
 const g=svg.append("g");
 const fills={C1:"#a6cee3",C2:"#b2df8a",C3:"#fb9a99",C4:"#fdbf6f",C6:"#cab2d6"};
 const lowC="#1fb5b5",highC="#e8736a",blue="#4169b5",total=d3.sum(dCounts);
 const L=426.3,R=709.3,x=d3.scaleLinear().domain([0,total]).range([L,R]);
 line(g,L,306.7,527,306.7,"#222",.8); line(g,606,306.7,R,306.7,"#222",.8);
 g.append("path").attr("d",`M${L+4},303.5L${L},306.7L${L+4},309.9M${R-4},303.5L${R},306.7L${R-4},309.9`).attr("fill","none").attr("stroke","#222").attr("stroke-width",.8);
 text(g,(L+R)/2,309.5,total+" TCGA patients",7.7,{anchor:"middle",weight:"bold",fill:"#222"});
 g.append("rect").attr("x",L-.5).attr("y",317).attr("width",R-L+1).attr("height",15.5).attr("fill","none").attr("stroke","#999");
 g.append("rect").attr("x",L-.5).attr("y",335).attr("width",R-L+1).attr("height",15.5).attr("fill","none").attr("stroke","#999");
 let cum=0;
 dGroups.forEach((k,i)=>{
   const w=dCounts[i];
   g.append("rect").attr("x",x(cum)).attr("y",317.5).attr("width",x(w)-x(0)).attr("height",14.5).attr("fill",fills[k]);
   if(i>0)text(g,x(cum+w/2),327,k,5.5,{anchor:"middle",fill:"#fff"});
   let c2=cum;
   dSubsetOrder[i].forEach(s=>{const n=s==="low"?dLowCounts[i]:dHighCounts[i];
     g.append("rect").attr("x",x(c2)).attr("y",335.5).attr("width",x(n)-x(0)).attr("height",14.5).attr("fill",s==="low"?lowC:highC); c2+=n;});
   cum+=w;
 });
 const cols=d3.scaleBand().domain([...dGroups,"P"]).range([479.3,709.3]).paddingInner(.073);
 const rect=(x0,y0,w,h,f)=>g.append("rect").attr("x",x0).attr("y",y0).attr("width",w).attr("height",h).attr("fill",f);
 rect(426.3,353.3,50.7,41.7,blue);
 text(g,451.6,372,"CLRM",6,{anchor:"middle",weight:"bold",fill:"#fff"});
 text(g,451.6,381,"groups",6,{anchor:"middle",weight:"bold",fill:"#fff"});
 rect(479.3,353.3,230,15.7,blue);
 text(g,594.3,363.5,"subtype group (n="+total+")",5.8,{anchor:"middle",weight:"bold",fill:"#fff"});
 rect(426.3,398,50.7,24.7,lowC);
 text(g,451.6,409,"CLRM−low",6,{anchor:"middle",weight:"bold",fill:"#fff"});
 text(g,451.6,417,"(n="+d3.sum(dLowCounts)+")",5.5,{anchor:"middle",weight:"bold",fill:"#fff"});
 rect(426.3,425,50.7,25,highC);
 text(g,451.6,436,"CLRM−high",6,{anchor:"middle",weight:"bold",fill:"#fff"});
 text(g,451.6,444.5,"(n="+d3.sum(dHighCounts)+")",5.5,{anchor:"middle",weight:"bold",fill:"#fff"});
 dGroups.forEach((k,i)=>{
   const cx=cols(k),w=cols.bandwidth(),m=cx+w/2;
   rect(cx,372,w,23,fills[k]);
   text(g,m,382,k,5.3,{anchor:"middle",fill:"#fff"});
   text(g,m,390,`(n=${dCounts[i]}, ${dPercent[i]})`,5,{anchor:"middle",fill:"#fff"});
   rect(cx,398,w,24.7,"#e5e5e5");
   text(g,m,412,`${dLowCounts[i]}(${dLowPct[i]})`,5.5,{anchor:"middle",fill:"#333"});
   rect(cx,425,w,25,"#ababab");
   text(g,m,439,`${dHighCounts[i]}(${dHighPct[i]})`,5.5,{anchor:"middle",fill:"#333"});
 });
 const px=cols("P"),pw=cols.bandwidth();
 rect(px,372,pw,23,"#ababab");
 text(g,px+pw/2,385.5,"P−value",5.3,{anchor:"middle",style:"italic",fill:"#222"});
 rect(px,398,pw,52,"#ababab");
 text(g,px+pw/2,426,"0.001",5.3,{anchor:"middle",fill:"#222"});
 rect(516,456,3,3,lowC); text(g,525,460,"CLRM−low",6.5,{fill:"#333"});
 rect(571,456,3,3,highC); text(g,580,460,"CLRM−high",6.5,{fill:"#333"});
})();

// ---- E ----
(function(){
 const g=svg.append("g");
 const rowY=d3.scaleBand().domain(eTracks).range([547.7,598]).paddingInner(.05);
 eCells.forEach((str,t)=>{
   const cells=str.split("");
   const x=d3.scaleBand().domain(d3.range(cells.length)).range([3.3,195]);
   const col=d3.scaleOrdinal().domain(eCodes[t].split("")).range(ePalette[t]);
   g.append("rect").attr("x",3.3).attr("width",191.7).attr("y",rowY(eTracks[t])).attr("height",rowY.bandwidth()).attr("fill","#808080");
   g.append("g").selectAll("rect").data(cells).join("rect")
     .attr("x",(d,i)=>x(i)).attr("width",x.bandwidth()+.2).attr("y",rowY(eTracks[t])).attr("height",rowY.bandwidth()).attr("fill",d=>col(d)).attr("opacity",t===7?1:.72);
   text(g,196,rowY(eTracks[t])+5.2,eTracks[t],6.2,{fill:"#333"});
 });
 const xs=[17.3,38.3,66.7,92.7,120,136.7,162.7,188.3];
 eLegendTitles.forEach((tt,k)=>{
   text(g,xs[k],604.5,tt,4.6,{weight:"bold",fill:"#222"});
   eLegendLabels[k].forEach((lb,i)=>{
     g.append("rect").attr("x",xs[k]).attr("y",607.3+i*4.83).attr("width",4.3).attr("height",4.5).attr("fill",ePalette[k][i]);
     text(g,xs[k]+6,611+i*4.83,lb,4,{fill:"#444"});
   });
 });
})();

// ---- F / G ----
function gsea(cfg){
 const g=svg.append("g");
 const {L,R,x0,x15,scoreA,scoreB,curves,rugs,names,legX,title,ticks,tickFmt,rugTop}=cfg;
 const x=d3.scaleLinear().domain([0,15000]).range([x0,x15]);
 const y=d3.scaleLinear().domain([scoreA[0],scoreB[0]]).range([scoreA[1],scoreB[1]]);
 const top=523.3,bot=588;
 rankTicks.forEach(t=>{ line(g,x(t),top,x(t),bot,"#efefef",.4); line(g,x(t),611,x(t),653,"#efefef",.4);});
 ticks.forEach(t=>line(g,L,y(t),R,y(t),"#f0f0f0",.4));
 const ln=d3.line().x(d=>x(d[0])).y(d=>y(d[1]));
 curves.forEach((c,i)=>g.append("path").attr("d",ln(c)).attr("fill","none").attr("stroke",gseaColors[i]).attr("stroke-width",.85));
 line(g,L,top,L,bot,"#555",.5);
 const ay=g.append("g").attr("transform",`translate(${L},0)`).call(d3.axisLeft(y).tickValues(ticks).tickFormat(tickFmt).tickSize(1).tickPadding(.8));
 ay.select(".domain").remove(); ay.selectAll("text").attr("font-size",2.9).attr("font-family","inherit").attr("fill","#444");
 ay.selectAll(".tick line").attr("stroke","#555").attr("stroke-width",.3);
 text(g,L-11,556,"Running Enrichment Score",3.4,{anchor:"middle",rot:-90,fill:"#444"});
 text(g,L+.5,522,title,4.2,{weight:"bold",fill:"#444"});
 names.forEach((n,i)=>{
   const yy=523.3+i*6.67;
   line(g,legX,yy,legX+6,yy,gseaColors[i],.8);
   text(g,legX+10,yy+1,n,2.9,{fill:"#333"});
 });
 const rowH=4.2;
 rugs.forEach((r,i)=>{
   const y0=rugTop+r.row*rowH;
   g.append("g").selectAll("line").data(r.v).join("line").attr("x1",d=>x(d)).attr("x2",d=>x(d)).attr("y1",y0).attr("y2",y0+rowH-.2).attr("stroke",gseaColors[r.c]).attr("stroke-width",.8);
 });
 line(g,L,609.3,R,609.3,"#F8A8A0",.5);
 const m=d3.scaleLinear().domain([1,-1]).range([622.7,651.7]);
 g.append("path").attr("d",d3.area().x(d=>x(d[0])).y0(m(0)).y1(d=>m(d[1]))(rankedMetric)).attr("fill","#bdbdbd");
 line(g,L,611,L,653.3,"#555",.5);
 line(g,L,653.3,R,653.3,"#555",.5);
 const am=g.append("g").attr("transform",`translate(${L},0)`).call(d3.axisLeft(m).tickValues([1,0,-1]).tickSize(1).tickPadding(.8));
 am.select(".domain").remove(); am.selectAll("text").attr("font-size",2.9).attr("font-family","inherit").attr("fill","#444");
 am.selectAll(".tick line").attr("stroke","#555").attr("stroke-width",.3);
 const ax=g.append("g").attr("transform","translate(0,653.3)").call(d3.axisBottom(x).tickValues(rankTicks).tickSize(1).tickPadding(.6).tickFormat(d3.format("d")));
 ax.select(".domain").remove(); ax.selectAll("text").attr("font-size",2.9).attr("font-family","inherit").attr("fill","#444");
 ax.selectAll(".tick line").attr("stroke","#555").attr("stroke-width",.3);
 text(g,(x0+x15)/2,661,"Rank in Ordered Dataset",3.7,{anchor:"middle",fill:"#444"});
 text(g,L-11,632,"Ranked List Metric",3.4,{anchor:"middle",rot:-90,fill:"#444"});
}
gsea({L:242.3,R:461.7,x0:242.3,x15:458.3,scoreA:[0,529],scoreB:[-.8,586.7],curves:[fRed,fOlive,fGreen,fBlue,fPink],
 rugs:[{row:0,c:0,v:fRugRed},{row:1,c:3,v:fRugBlue},{row:2,c:2,v:fRugGreen},{row:3,c:4,v:fRugPink},{row:4,c:1,v:fRugOlive}],
 names:fNames,legX:370.7,title:"Enriched in low risk group",ticks:[0,-.2,-.4,-.6,-.8],tickFmt:d3.format(".1f"),rugTop:588.3});
gsea({L:497.3,R:730,x0:498.3,x15:725,scoreA:[0,578.7],scoreB:[.5,540],curves:[gRed,gOlive,gGreen,gBlue,gPink],
 rugs:[{row:0,c:0,v:gRugRed},{row:1,c:3,v:gRugBlue},{row:2,c:4,v:gRugPink},{row:3,c:2,v:gRugGreen},{row:4,c:1,v:gRugOlive}],
 names:gNames,legX:636.7,title:"Enriched in high risk group",ticks:[0,.25,.5],tickFmt:d3.format(".2f"),rugTop:588});

// ---- H1..K1 ----
function jitterPanel(c){
 const g=svg.append("g");
 const x=d3.scalePoint().domain(riskGroups).range([c.left,c.right]).padding(.6);
 const y=d3.scaleLinear().domain(c.yDom).range(c.yRange);
 [[c.low,"#0000ff"],[c.high,"#ff0000"]].forEach((s,k)=>{
   g.append("g").attr("fill",s[1]).selectAll("circle").data(s[0]).join("circle")
    .attr("cx",(d,i)=>x(riskGroups[k])+jitterOffsets[i%jitterOffsets.length]*c.jit).attr("cy",d=>y(d)).attr("r",1.3);
 });
 drawBoxes(g,[riskGroups[0]],x,y,0,c.bw,[c.box[0]],null,{whisker:"#4444ff",fill:"none",stroke:"#5555ff",median:"#2222ee",dot:"#00f",sw:.8,mw:1});
 drawBoxes(g,[riskGroups[1]],x,y,0,c.bw,[c.box[1]],null,{whisker:"#ff4444",fill:"none",stroke:"#ff5555",median:"#ee2222",dot:"#f00",sw:.8,mw:1});
 valAxis(g,y,c.left,c.top,c.bottom,c.ticks,c.fmt,5.5);
 const a=g.append("g").attr("transform",`translate(0,${c.bottom})`).call(d3.axisBottom(x).tickSize(2).tickPadding(1.5));
 a.select(".domain").attr("stroke","#333").attr("stroke-width",.8);
 a.selectAll(".tick line").attr("stroke","#333").attr("stroke-width",.6);
 a.selectAll("text").attr("font-size",5.5).attr("font-family","inherit").attr("fill","#333");
 text(g,c.left-c.lab,(c.top+c.bottom)/2+2,c.name,4.8,{anchor:"middle",rot:-90,fill:"#333"});
 const by=y(c.brk),x1=x(riskGroups[0]),xr=x(riskGroups[1]);
 g.append("path").attr("d",`M${x1},${by+2}V${by}H${xr}V${by+2}`).attr("fill","none").attr("stroke","#666").attr("stroke-width",.5);
 text(g,(x1+xr)/2,by-1.2,c.p,4.8,{anchor:"middle",fill:"#333"});
 boxKey(g,c.key[0],683.5,5,4,"none","#3333ee","#3333ee");
 text(g,c.key[0]+8,687.5,riskGroups[0],4.5,{fill:"#444"});
 boxKey(g,c.key[1],683.5,5,4,"none","#ee3333","#ee3333");
 text(g,c.key[1]+8,687.5,riskGroups[1],4.5,{fill:"#444"});
}
jitterPanel({left:16.7,right:175,top:697,bottom:810,yDom:[0,3],yRange:[805.7,700.3],low:pdcd1Low,high:pdcd1High,box:pdcd1Box,bw:50,jit:15,ticks:[0,1,2,3],fmt:d3.format("d"),name:"PDCD1 expression",lab:9,brk:2.9,p:"4.6e-08",key:[65.5,100]});
jitterPanel({left:203.3,right:361.7,top:699,bottom:810,yDom:[0,3],yRange:[809,703],low:cd274Low,high:cd274High,box:cd274Box,bw:50,jit:15,ticks:[0,1,2,3],fmt:d3.format("d"),name:"CD274 expression",lab:9,brk:2.98,p:"0.02",key:[252.5,286]});
jitterPanel({left:394.3,right:546.7,top:698,bottom:809,yDom:[0,1.5],yRange:[804.3,705.3],low:btlaLow,high:btlaHigh,box:btlaBox,bw:49,jit:15,ticks:[0,.5,1,1.5],fmt:d3.format(".1f"),name:"BTLA expression",lab:13.8,brk:1.54,p:"0.058",key:[441.5,478]});
jitterPanel({left:581,right:733,top:698,bottom:810,yDom:[0,2],yRange:[804.7,712.3],low:ctla4Low,high:ctla4High,box:ctla4Box,bw:48,jit:15,ticks:[0,.5,1,1.5,2],fmt:d3.format(".1f"),name:"CTLA4 expression",lab:13.5,brk:2.19,p:"3.2e-07",key:[628,661.5]});

// ---- H2..K2 ----
function corrPanel(c){
 const g=svg.append("g");
 const x=d3.scaleLinear().domain([0,50]).range(c.xRange);
 const y=d3.scaleLinear().domain(c.yDom).range(c.yRange);
 const top=863.3,W=c.right-c.left;
 riskTicks.forEach(t=>line(g,x(t),top,x(t),c.bottom,"#eaeaea",.5));
 c.ticks.forEach(t=>line(g,c.left,y(t),c.right,y(t),"#eaeaea",.5));
 g.append("path").attr("d",d3.area().x(d=>x(d[0])).y0(d=>y(d[1])).y1(d=>y(d[3]))(c.fit)).attr("fill","#c9c9c9");
 const pts=[...c.low.map((v,i)=>[riskLow[i%riskLow.length],v]),...c.high.map((v,i)=>[riskHigh[i%riskHigh.length],v]),...c.extra];
 g.append("g").attr("fill","#111").selectAll("circle").data(pts).join("circle").attr("cx",d=>x(d[0])).attr("cy",d=>y(d[1])).attr("r",1);
 g.append("path").attr("d",d3.line().x(d=>x(d[0])).y(d=>y(d[2]))(c.fit)).attr("fill","none").attr("stroke","#3a66e0").attr("stroke-width",1);
 g.append("rect").attr("x",c.left).attr("y",top).attr("width",W).attr("height",c.bottom-top).attr("fill","none").attr("stroke","#bbb").attr("stroke-width",.8);
 const ax=g.append("g").attr("transform",`translate(0,${c.bottom})`).call(d3.axisBottom(x).tickValues(riskTicks).tickSize(1.5).tickPadding(.8));
 ax.select(".domain").remove(); ax.selectAll("text").attr("font-size",4).attr("font-family","inherit").attr("fill","#555");
 ax.selectAll(".tick line").attr("stroke","#888").attr("stroke-width",.4);
 const ay=g.append("g").attr("transform",`translate(${c.left},0)`).call(d3.axisLeft(y).tickValues(c.ticks).tickFormat(c.fmt).tickSize(1.5).tickPadding(.8));
 ay.select(".domain").remove(); ay.selectAll("text").attr("font-size",4).attr("font-family","inherit").attr("fill","#555");
 ay.selectAll(".tick line").attr("stroke","#888").attr("stroke-width",.4);
 text(g,c.left+W/2-1,988.5,"Risk score",4.6,{anchor:"middle",fill:"#444"});
 text(g,c.left-8.8,921,c.name,4,{anchor:"middle",rot:-90,fill:"#444"});
 text(g,c.left+6,873.5,c.label,4.4,{fill:"#222"});
 const dy=d3.scaleLinear().domain([0,1]).range([862.5,838]);
 g.append("path").attr("d",d3.area().x(d=>x(d[0])).y0(dy(0)).y1(d=>dy(d[1])).curve(d3.curveBasis)(riskDensity)).attr("fill","#f5a300").attr("stroke","#777").attr("stroke-width",.4);
 const dx=d3.scaleLinear().domain([0,1]).range([c.right+1.5,c.right+25.5]);
 g.append("path").attr("d",d3.area().y(d=>y(d[0])).x0(dx(0)).x1(d=>dx(d[1])).curve(d3.curveBasis)(c.dens)).attr("fill","#0000ee").attr("stroke","#888").attr("stroke-width",.3);
}
corrPanel({left:14.7,right:150.7,bottom:980,xRange:[20.7,142.3],yDom:[0,2],yRange:[975,898.7],low:pdcd1Low,high:pdcd1High,extra:h2Extra,fit:h2Fit,dens:h2Density,ticks:[0,1,2],fmt:d3.format("d"),name:"PDCD1 expression",label:"R = 0.29, p = 2.5e−11"});
corrPanel({left:202.3,right:337.3,bottom:980,xRange:[207.7,329.3],yDom:[0,2],yRange:[979,902],low:cd274Low,high:cd274High,extra:i2Extra,fit:i2Fit,dens:i2Density,ticks:[0,1,2],fmt:d3.format("d"),name:"CD274 expression",label:"R = −0.11, p = 0.0081"});
corrPanel({left:391.7,right:524.3,bottom:979.3,xRange:[396.7,516],yDom:[0,1.5],yRange:[973.7,866],low:btlaLow,high:btlaHigh,extra:j2Extra,fit:j2Fit,dens:j2Density,ticks:[0,.5,1,1.5],fmt:d3.format(".1f"),name:"BTLA expression",label:"R = 0.1, p = 0.021"});
corrPanel({left:578.3,right:708.3,bottom:978,xRange:[583.3,701],yDom:[0,2],yRange:[973.7,873.7],low:ctla4Low,high:ctla4High,extra:k2Extra,fit:k2Fit,dens:k2Density,ticks:[0,.5,1,1.5,2],fmt:d3.format(".1f"),name:"CTLA4 expression",label:"R = 0.28, p = 2.9e−11"});

svg.selectAll("g[font-family]").attr("font-family",FONT_SANS);
</script></body></html>
